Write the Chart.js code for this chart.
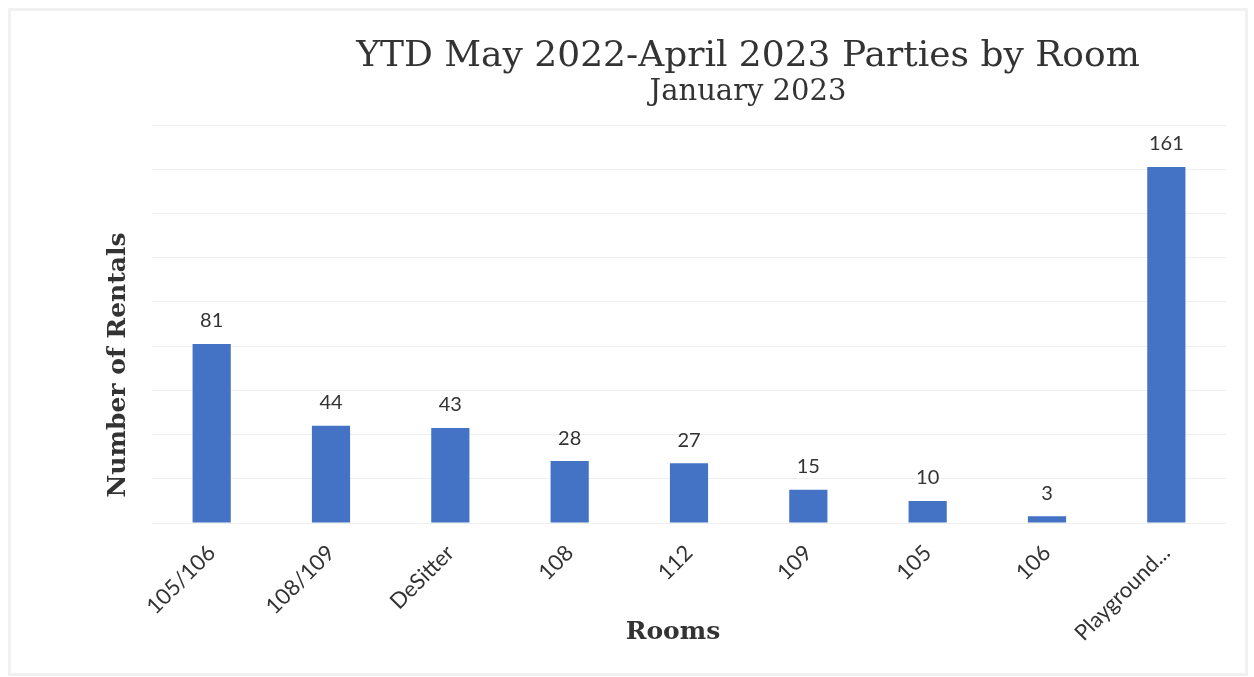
<!DOCTYPE html>
<html>
<head>
<meta charset="utf-8">
<title>YTD May 2022-April 2023 Parties by Room</title>
<script src="https://cdn.jsdelivr.net/npm/chart.js@4.4.1/dist/chart.umd.min.js"></script>
<style>
  html, body { margin: 0; padding: 0; background: #ffffff; }
  #frame {
    position: absolute; left: 8px; top: 8px;
    width: 1234px; height: 662px;
    border: 3px solid #f1f1f1;
  }
  #wrap { position: absolute; left: 0; top: 0; width: 1254px; height: 677px; }
</style>
</head>
<body>
<div id="frame"></div>
<div id="wrap"><canvas id="chart" width="1254" height="677"></canvas></div>
<script>
// Rooms and the number of party rentals booked in each
const rooms = ['105/106', '108/109', 'DeSitter', '108', '112', '109', '105', '106', 'Playground...'];
const rentals = [81, 44, 43, 28, 27, 15, 10, 3, 161];

// Value axis range (gridlines every 20 rentals)
const yMin = 0;
const yMax = 180;
const yStep = 20;

const titleText = 'YTD May 2022-April 2023 Parties by Room';
const subtitleText = 'January 2023';
const xTitle = 'Rooms';
const yTitle = 'Number of Rentals';

const BAR_BLUE = '#4472c4';
const TEXT_DARK = '#333333';

// Heading lines and axis captions, placed freely on the canvas
const captions = {
  id: 'captions',
  afterDraw(chart) {
    const ctx = chart.ctx;
    ctx.save();
    ctx.fillStyle = TEXT_DARK;
    ctx.textAlign = 'center';

    ctx.textBaseline = 'alphabetic';
    ctx.font = '36px "DejaVu Serif"';
    ctx.fillText(titleText, 748, 66);
    ctx.font = '29px "DejaVu Serif"';
    ctx.fillText(subtitleText, 748, 100);

    ctx.textBaseline = 'middle';
    ctx.font = 'bold 25px "DejaVu Serif"';
    ctx.fillText(xTitle, 673, 632);

    ctx.translate(118, 365);
    ctx.rotate(-Math.PI / 2);
    ctx.fillText(yTitle, 0, 0);
    ctx.restore();
  }
};

// Value printed above each bar
const valueLabels = {
  id: 'valueLabels',
  afterDatasetsDraw(chart) {
    const ctx = chart.ctx;
    const meta = chart.getDatasetMeta(0);
    const values = chart.data.datasets[0].data;
    ctx.save();
    ctx.fillStyle = TEXT_DARK;
    ctx.font = '20px Lato';
    ctx.textAlign = 'center';
    ctx.textBaseline = 'bottom';
    meta.data.forEach((bar, i) => {
      ctx.fillText(String(values[i]), bar.x, bar.y - 13);
    });
    ctx.restore();
  }
};

new Chart(document.getElementById('chart'), {
  type: 'bar',
  data: {
    labels: rooms,
    datasets: [{
      data: rentals,
      backgroundColor: BAR_BLUE,
      borderWidth: 0,
      categoryPercentage: 1.0,
      barPercentage: 0.32
    }]
  },
  options: {
    responsive: false,
    animation: false,
    devicePixelRatio: 1,
    layout: { padding: { top: 125, right: 28, bottom: 0, left: 0 } },
    plugins: {
      legend: { display: false },
      title: { display: false },
      tooltip: { enabled: false }
    },
    scales: {
      x: {
        grid: { display: false, drawTicks: false },
        border: { display: false },
        ticks: {
          minRotation: 45,
          maxRotation: 45,
          autoSkip: false,
          padding: 17,
          color: TEXT_DARK,
          font: { family: 'Lato', size: 22 }
        },
        title: { display: false },
        afterFit(scale) { scale.height = 154; }
      },
      y: {
        min: yMin,
        max: yMax,
        ticks: { display: false, stepSize: yStep },
        grid: { color: '#efefef', lineWidth: 1, drawTicks: false },
        border: { display: false },
        title: { display: false },
        afterFit(scale) { scale.width = 152; }
      }
    }
  },
  plugins: [captions, valueLabels]
});
</script>
</body>
</html>
